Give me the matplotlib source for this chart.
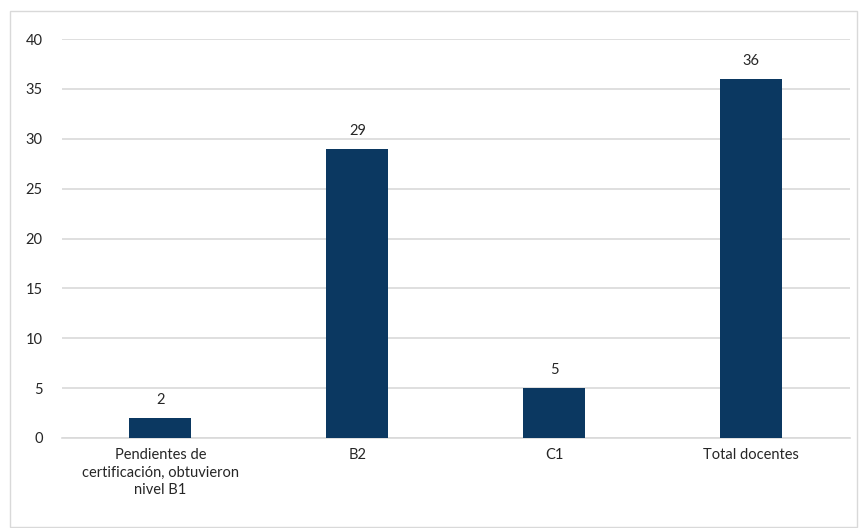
import matplotlib
matplotlib.use("Agg")
import matplotlib.pyplot as plt
from matplotlib.patches import Rectangle

plt.rcParams['font.family'] = ['Lato', 'DejaVu Sans']

categorias = ["Pendientes de\ncertificación, obtuvieron\nnivel B1", "B2", "C1", "Total docentes"]
valores = [2, 29, 5, 36]
yticks = [0, 5, 10, 15, 20, 25, 30, 35, 40]

color_barra = "#0b3861"
color_grid = "#d9d9d9"
color_texto = "#262626"

fig = plt.figure(figsize=(8.67, 5.28), dpi=100)
ax = fig.add_axes([0.0715, 0.1705, 0.9085, 0.7555])

x = range(len(categorias))
barras = ax.bar(x, valores, width=0.315, color=color_barra, zorder=3)

# etiquetas de valor encima de cada barra
for b, v in zip(barras, valores):
    ax.annotate(str(v), (b.get_x() + b.get_width() / 2, v), xytext=(0, 8),
                textcoords="offset points", ha="center", va="bottom",
                fontsize=10.5, color=color_texto)

ax.set_xlim(-0.5, len(categorias) - 0.5)
ax.set_ylim(0, 40)
ax.set_yticks(yticks)
ax.set_xticks(list(x))
ax.set_xticklabels(categorias, fontsize=10.5, color=color_texto, linespacing=1.35)
ax.tick_params(axis="y", labelsize=10.5, labelcolor=color_texto, length=0, pad=14)
ax.tick_params(axis="x", length=0, pad=7)

ax.yaxis.grid(True, color=color_grid, linewidth=1.2, zorder=0)
for s in ["top", "right", "left"]:
    ax.spines[s].set_visible(False)
ax.spines["bottom"].set_color(color_grid)
ax.spines["bottom"].set_linewidth(1.2)

# borde exterior del gráfico
fig.patches.append(Rectangle((0.0115, 0.0019), 0.977, 0.977, transform=fig.transFigure,
                             fill=False, edgecolor=color_grid, linewidth=1))

fig.savefig("out.png", dpi=100)
